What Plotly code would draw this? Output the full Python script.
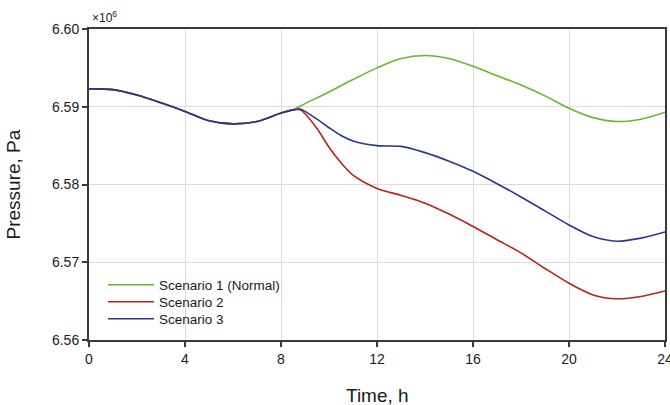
import plotly.graph_objects as go

# Shared early history (0 - 8.5 h), pressure in units of 1e6 Pa
t_common = [0, 1, 2, 3, 4, 5, 6, 7, 8, 8.5]
p_common = [6.5923, 6.5922, 6.5915, 6.5905, 6.5894, 6.5882, 6.5878, 6.5881, 6.5892, 6.5896]

t_s1 = [9, 10, 11, 12, 13, 14, 15, 16, 17, 18, 19, 20, 21, 22, 23, 24]
p_s1 = [6.5904, 6.5919, 6.5935, 6.5950, 6.5962, 6.5966, 6.5962, 6.5952, 6.5940,
        6.5928, 6.5914, 6.5898, 6.5886, 6.5881, 6.5884, 6.5893]

t_s2 = [8.8, 9, 9.5, 10, 10.5, 11, 12, 13, 14, 15, 16, 17, 18, 19, 20, 21, 22, 23, 24]
p_s2 = [6.5896, 6.5891, 6.5872, 6.5848, 6.5828, 6.5812, 6.5795, 6.5786, 6.5776, 6.5762,
        6.5746, 6.5729, 6.5712, 6.5692, 6.5673, 6.5658, 6.5653, 6.5656, 6.5663]

t_s3 = [8.8, 9.5, 10, 10.5, 11, 12, 13, 14, 15, 16, 17, 18, 19, 20, 21, 22, 23, 24]
p_s3 = [6.5897, 6.5884, 6.5873, 6.5863, 6.5856, 6.5850, 6.5849, 6.5841, 6.5830, 6.5817,
        6.5801, 6.5784, 6.5766, 6.5748, 6.5733, 6.5727, 6.5731, 6.5739]

series_names = ["Scenario 1 (Normal)", "Scenario 2", "Scenario 3"]
x_ticks = [0, 4, 8, 12, 16, 20, 24]
y_ticks = [6.56, 6.57, 6.58, 6.59, 6.60]
y_tick_labels = ["6.56", "6.57", "6.58", "6.59", "6.60"]

colors = ["#6cb52d", "#c01f17", "#2b3594"]
font_family = "Liberation Sans, Arial, sans-serif"
txt = "#1a1a1a"

fig = go.Figure()
all_t = [t_s1, t_s2, t_s3]
all_p = [p_s1, p_s2, p_s3]
legend_ids = ["legend", "legend2", "legend3"]
for i in range(3):
    fig.add_trace(go.Scatter(x=t_common + all_t[i], y=p_common + all_p[i], mode="lines",
                             name=series_names[i], legend=legend_ids[i],
                             line=dict(color=colors[i], width=1.6, shape="spline",
                                       smoothing=0.8)))

legend_common = dict(x=0.0243, xanchor="left", yanchor="middle",
                     bgcolor="rgba(0,0,0,0)", font=dict(size=13.5, color=txt),
                     itemwidth=46, borderwidth=0)
legend_y = [0.1768, 0.1222, 0.0675]

fig.update_layout(
    width=670, height=405,
    margin=dict(l=89, r=5, t=29, b=65),
    paper_bgcolor="white", plot_bgcolor="white",
    font=dict(family=font_family, size=14, color=txt),
    showlegend=True,
    legend=dict(y=legend_y[0], **legend_common),
    legend2=dict(y=legend_y[1], **legend_common),
    legend3=dict(y=legend_y[2], **legend_common),
    xaxis=dict(range=[0, 24], tickvals=x_ticks, showgrid=True, gridcolor="#dcdcdc",
               gridwidth=1, showline=True, linecolor="#3a3a3a", linewidth=2, mirror=True,
               ticks="outside", ticklen=5, tickcolor="#3a3a3a", tickwidth=2, zeroline=False,
               automargin=False, ticklabeloverflow="allow",
               tickfont=dict(size=14, color=txt)),
    yaxis=dict(range=[6.56, 6.60], tickvals=y_ticks, ticktext=y_tick_labels, showgrid=True,
               gridcolor="#dcdcdc", gridwidth=1, showline=True, linecolor="#3a3a3a",
               linewidth=2, mirror=True, ticks="outside", ticklen=5, tickcolor="#3a3a3a",
               tickwidth=2, zeroline=False, automargin=False,
               tickfont=dict(size=14, color=txt)),
    annotations=[
        dict(text="×10<sup>6</sup>", xref="paper", yref="paper", x=0, y=1,
             xanchor="left", yanchor="bottom", xshift=1, yshift=2, showarrow=False,
             font=dict(size=12, color=txt)),
        dict(text="Time, h", xref="paper", yref="paper", x=0.5, y=0,
             xanchor="center", yanchor="middle", yshift=-55, showarrow=False,
             font=dict(size=19, color=txt)),
        dict(text="Pressure, Pa", xref="paper", yref="paper", x=0, y=0.5,
             xanchor="center", yanchor="middle", xshift=-76, textangle=-90,
             showarrow=False, font=dict(size=19, color=txt)),
    ],
)

fig.write_html("out.html",
               config={"displayModeBar": False},
               post_script="document.body.style.margin='0';"
                           "document.body.style.overflow='hidden';")
